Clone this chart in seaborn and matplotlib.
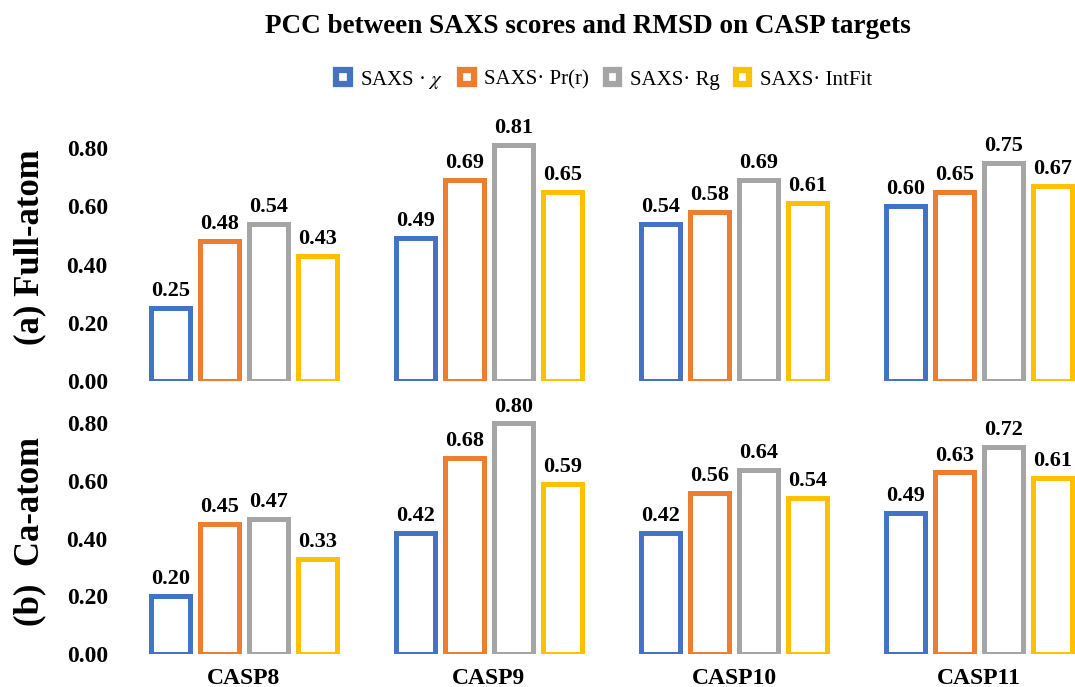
import numpy as np
import pandas as pd
import seaborn as sns
import matplotlib.pyplot as plt
from matplotlib.patches import Patch

targets = ["CASP8", "CASP9", "CASP10", "CASP11"]
series = ["SAXS · $\\chi$", "SAXS· Pr(r)", "SAXS· Rg", "SAXS· IntFit"]
colors = ["#4472C4", "#ED7D31", "#A5A5A5", "#FFC000"]

full_chi = [0.25, 0.49, 0.54, 0.60]
full_pr = [0.48, 0.69, 0.58, 0.65]
full_rg = [0.54, 0.81, 0.69, 0.75]
full_int = [0.43, 0.65, 0.61, 0.67]

ca_chi = [0.20, 0.42, 0.42, 0.49]
ca_pr = [0.45, 0.68, 0.56, 0.63]
ca_rg = [0.47, 0.80, 0.64, 0.72]
ca_int = [0.33, 0.59, 0.54, 0.61]

yticks = [0.0, 0.2, 0.4, 0.6, 0.8]


def long_df(vals):
    rows = []
    for s, v in zip(series, vals):
        for t, x in zip(targets, v):
            rows.append({"target": t, "series": s, "value": x})
    return pd.DataFrame(rows)


df_full = long_df([full_chi, full_pr, full_rg, full_int])
df_ca = long_df([ca_chi, ca_pr, ca_rg, ca_int])

sns.set_theme(style="white")
plt.rcParams["font.family"] = ["Liberation Serif", "DejaVu Serif"]
plt.rcParams["mathtext.fontset"] = "stix"
plt.rcParams["text.color"] = "black"
plt.rcParams["xtick.color"] = "black"
plt.rcParams["ytick.color"] = "black"

fig = plt.figure(figsize=(10.75, 6.87), dpi=100)
ax1 = fig.add_axes([0.121, 0.4454, 0.879, 0.3814])
ax2 = fig.add_axes([0.121, 0.048, 0.879, 0.3566])

for ax, df, ylim in [(ax1, df_full, 0.9), (ax2, df_ca, 0.85)]:
    sns.barplot(data=df, x="target", y="value", hue="series", hue_order=series,
                order=targets, palette=colors, fill=False, linewidth=3.6,
                gap=0.22, width=0.8, errorbar=None, legend=False, ax=ax)
    for cont in ax.containers:
        ax.bar_label(cont, fmt="%.2f", padding=5, fontsize=16, fontweight="bold",
                     color="black")
    ax.set_xlim(-0.465, 3.392)
    ax.set_ylim(0, ylim)
    ax.set_yticks(yticks)
    ax.set_yticklabels([f"{v:.2f}" for v in yticks], fontsize=17, fontweight="bold")
    ax.tick_params(axis="y", length=0, pad=16)
    ax.tick_params(axis="x", length=0, pad=10)
    ax.set_xlabel("")
    ax.set_ylabel("")
    for sp in ax.spines.values():
        sp.set_visible(False)

ax1.set_xticklabels([])
ax2.set_xticklabels(targets, fontsize=17, fontweight="bold")

fig.text(0.547, 0.962, "PCC between SAXS scores and RMSD on CASP targets",
         ha="center", va="center", fontsize=19.5, fontweight="bold")
fig.text(0.028, 0.640, "(a) Full-atom", rotation=90, ha="center", va="center",
         fontsize=25, fontweight="bold")
fig.text(0.028, 0.226, "(b)  Ca-atom", rotation=90, ha="center", va="center",
         fontsize=25, fontweight="bold")

handles = [Patch(facecolor="white", edgecolor=c, linewidth=4.5, label=s)
           for s, c in zip(series, colors)]
fig.legend(handles=handles, loc="center", bbox_to_anchor=(0.562, 0.884), ncol=4,
           frameon=False, handlelength=0.65, handleheight=0.65, handletextpad=0.5,
           columnspacing=0.8, fontsize=15)

fig.savefig("out.png", dpi=100)
